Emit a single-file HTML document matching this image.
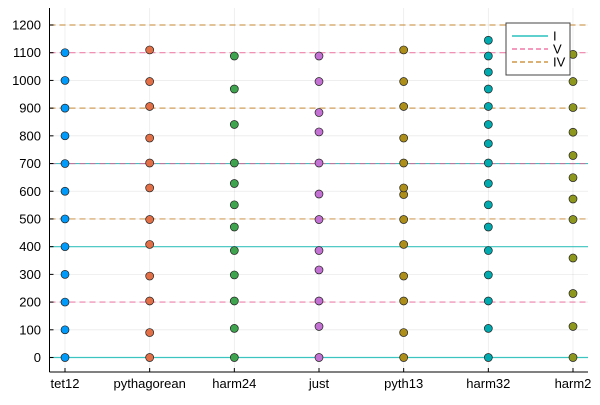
<!DOCTYPE html>
<html><head><meta charset="utf-8"><style>
body{margin:0;background:#fff}
svg{font-family:"Liberation Sans",sans-serif;font-size:13px}
</style></head><body>
<svg id="c" width="600" height="400" xmlns="http://www.w3.org/2000/svg"></svg>
<script>
const categories=["tet12","pythagorean","harm24","just","pyth13","harm32","harm2"];
const tet12=[0,100,200,300,400,500,600,700,800,900,1000,1100];
const pythagorean=[0,90,204,294,408,498,612,702,792,906,996,1110];
const harm24=[0,105,204,298,386,471,551,628,702,841,969,1088];
const just=[0,112,204,316,386,498,590,702,814,884,996,1088];
const pyth13=[0,90,204,294,408,498,588,612,702,792,906,996,1110];
const harm32=[0,105,204,298,386,471,551,628,702,772,841,906,969,1030,1088,1145];
const harm2=[0,112,231,359,498,572,649,729,813,902,996,1094];
const seriesValues=[tet12,pythagorean,harm24,just,pyth13,harm32,harm2];
const seriesColors=["#009AFA","#E36F47","#3EA44E","#C371D2","#AC8E18","#00AAAE","#8E971D"];
const yTicks=[0,100,200,300,400,500,600,700,800,900,1000,1100,1200];
const lineI=[0,400,700];
const lineV=[200,700,1100];
const lineIV=[500,900,1200];
const L=49.5,R=588,T=8,B=372;
const X=i=>65+i*(573-65)/6;
const Y=v=>357.5-v*(357.5-25)/1200;
const svg=document.getElementById('c');
const NS="http://www.w3.org/2000/svg";
function mk(tag,a,p){const e=document.createElementNS(NS,tag);for(const k in a)e.setAttribute(k,a[k]);(p||svg).appendChild(e);return e;}
yTicks.forEach(v=>{const g=mk('line',{x1:L,x2:R,y1:Y(v),y2:Y(v),stroke:'#000','stroke-opacity':0.08,'stroke-width':0.8});

});
categories.forEach((c,i)=>{const g=mk('line',{x1:X(i),x2:X(i),y1:T,y2:B,stroke:'#000','stroke-opacity':0.08,'stroke-width':0.8});

});
function hl(vals,color,dash,name){vals.forEach(v=>{const l=mk('line',{x1:L,x2:R,y1:Y(v),y2:Y(v),stroke:color,'stroke-width':1.2,'stroke-opacity':0.75});
if(dash)l.setAttribute('stroke-dasharray',dash);

});}
hl(lineI,'#00B5B0',null,'line-I');
hl(lineV,'#ED5E93','6,4','line-V');
hl(lineIV,'#C68225','6,4','line-IV');
const ax=mk('line',{x1:L,x2:L,y1:T,y2:B,stroke:'#000','stroke-width':1});


const bx=mk('line',{x1:L,x2:R,y1:B,y2:B,stroke:'#000','stroke-width':1});


yTicks.forEach(v=>{const t=mk('text',{x:41,y:Y(v)+4.5,'text-anchor':'end',fill:'#000'});t.textContent=v;


mk('line',{x1:L,x2:L+4,y1:Y(v),y2:Y(v),stroke:'#000'});});
categories.forEach((c,i)=>{const t=mk('text',{x:X(i),y:388,'text-anchor':'middle',fill:'#000'});t.textContent=c;


mk('line',{x1:X(i),x2:X(i),y1:B,y2:B-4,stroke:'#000'});});
seriesValues.forEach((arr,i)=>{arr.forEach(v=>{const p=mk('circle',{cx:X(i),cy:Y(v),r:4,fill:seriesColors[i],stroke:'#222','stroke-width':0.7});

});});
const lg=mk('g',{});


mk('rect',{x:506,y:23,width:64,height:52,fill:'#fff',stroke:'#444','stroke-width':1},lg);
[['I','#00B5B0',null],['V','#ED5E93','5,3'],['IV','#C68225','5,3']].forEach((e,k)=>{const y=36+k*13;
const l=mk('line',{x1:512,x2:548,y1:y,y2:y,stroke:e[1],'stroke-width':1.2},lg);if(e[2])l.setAttribute('stroke-dasharray',e[2]);
const t=mk('text',{x:553,y:y+4.5,fill:'#000'},lg);t.textContent=e[0];

});
</script>
</body></html>
